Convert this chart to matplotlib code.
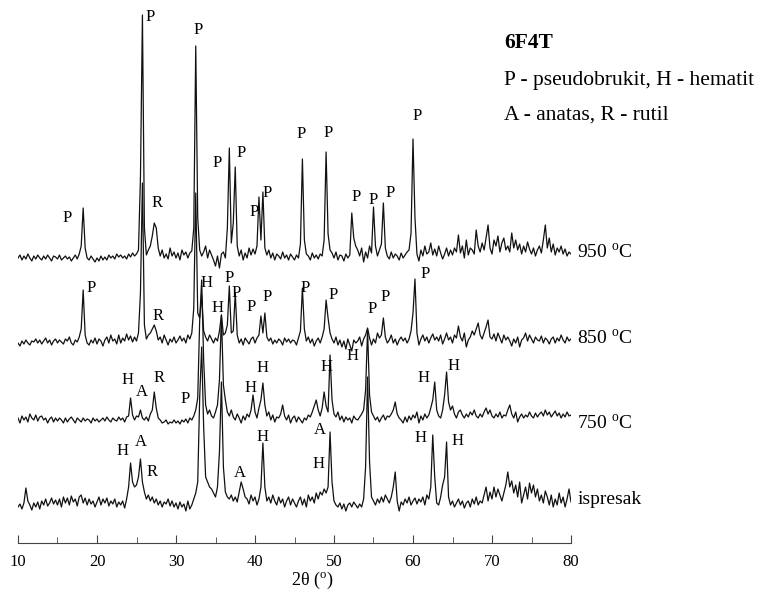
import numpy as np
import matplotlib
matplotlib.use("Agg")
import matplotlib.pyplot as plt

plt.rcParams['font.family'] = ['Liberation Serif', 'DejaVu Serif']
plt.rcParams['mathtext.fontset'] = 'custom'
plt.rcParams['mathtext.rm'] = 'Liberation Serif'

# 2theta sampling, 0.25 deg steps from 10 to 80
theta = np.arange(281) * 0.25 + 10

# intensities above each trace's own baseline
i950 = [0, 3, -2, 2, -1, 4, 0, -3, 2, -1, 3, 0, -2, 2, -1, 3, 0, -3, 2, 1,
        -1, 3, -2, 0, 2, -1, 1, -3, 0, 3, -1, 4, 12, 50, 10, 0, -2, 2, -1, -4,
        0, -3, 2, -2, 1, -2, 3, 0, 2, -1, 4, 1, 3, 0, 2, -1, 4, 1, 5, 2,
        4, 8, 80, 243, 30, 3, 8, 12, 22, 35, 30, 10, 2, 8, 0, 4, -1, 10, 2, 6,
        0, 5, -2, 8, 3, 6, 0, 5, 7, 30, 212, 40, 8, 2, 6, 12, 0, 8, 3, -2,
        -8, 2, -10, 4, 6, 0, 30, 110, 15, 35, 91, 12, 2, 8, -2, 5, 0, 10, 3, 9,
        4, 12, 61, 18, 66, 10, 3, 8, 0, 5, -2, 4, 2, -1, 6, 0, 3, -2, 4, 1,
        -2, 3, 0, 14, 99, 18, 4, 2, -2, 5, 0, 3, -1, 4, 2, 18, 106, 24, 8, 5,
        0, 6, -2, 3, 2, -3, 4, 0, 3, 45, 20, 12, 8, 2, 10, -4, 6, 0, 12, 5,
        51, 12, 2, 8, 14, 55, 10, 2, -1, 6, 0, 4, 2, -2, 5, 0, 3, 6, 8, 25,
        119, 40, 4, -3, 8, 2, 12, 4, 6, 15, 3, 9, 2, 12, 5, -1, 4, 10, 2, 8,
        3, 10, 6, 23, 5, 12, 0, 18, 3, 10, 8, 4, 28, 12, 6, 15, 8, 20, 33, 10,
        4, 18, 12, 22, 6, 15, 20, 8, 12, 6, 25, 10, 18, 8, 14, 4, 12, 6, 16, 9,
        4, 10, 2, 8, 12, 5, 18, 33, 10, 20, 6, 14, 3, 10, 6, 12, 4, 9, 2, 6,
        4]

i850 = [0, -3, 2, -1, 3, 0, -2, 2, 1, 4, 0, 3, -1, 2, 5, 0, 3, -2, 2, 4,
        0, 3, 1, -1, 4, 2, 6, 0, -2, 3, 1, 6, 14, 53, 8, 0, -2, 3, 0, 5,
        -1, 4, 2, -3, 3, 6, 0, 8, 2, 4, -1, 8, 0, 5, 2, 9, 3, 7, 1, 6,
        2, 10, 50, 160, 18, 4, 8, 10, 14, 18, 12, 3, 6, 0, 8, 3, -2, 4, 1, 6,
        0, 3, 7, 2, 5, 0, 8, 4, 10, 35, 150, 30, 25, 48, 12, 6, 2, 8, 4, 0,
        5, 2, 12, 28, 8, 10, 18, 57, 10, 12, 50, 8, 0, 4, -2, 5, 2, -1, 4, 6,
        0, 5, 8, 27, 10, 30, 6, 2, 5, -1, 3, 0, 4, 2, -2, 5, 1, 4, 0, 3,
        2, -2, 5, 12, 55, 14, 2, 6, 0, 4, -3, 2, 5, 0, 6, 14, 43, 25, 10, 4,
        0, 6, -2, 3, -4, 2, -6, 4, -2, -8, 3, 0, 2, 6, -3, 4, 8, 15, 5, -2,
        4, 0, 10, 5, 8, 25, 6, 0, 3, 8, 0, 4, -2, 3, 6, 2, 5, 0, 4, 12,
        30, 64, 10, -2, 4, 8, 2, 6, 0, 5, 9, 3, 6, 2, 8, -1, 4, 10, 3, 6,
        0, 8, 5, 17, 6, 2, 10, -4, 3, 6, 12, 8, 14, 20, 8, 4, 10, 16, 23, 6,
        4, 9, 2, 10, 5, 0, 8, 3, 6, 2, -3, 4, 0, 6, -4, 3, 5, 10, 2, 8,
        4, 0, 6, 3, 2, 7, 0, 5, 3, -1, 4, 6, 0, 5, 2, 8, 3, 0, 6, 2,
        4]

i750 = [2, -3, 4, 0, 3, -2, 6, 2, 0, 5, -1, 3, 4, 0, 2, -3, 1, 3, -2, 2,
        -1, 2, 0, -3, 2, -2, 1, 3, 0, -3, 2, 0, -2, 2, -1, 1, 0, -3, 2, -1,
        1, -2, 0, 2, -1, 3, 0, -2, 2, 0, -1, 3, 0, 2, -2, 3, 4, 22, 5, 0,
        4, 3, 10, 2, 0, 3, -1, 6, 10, 28, 12, 2, 0, -3, -2, 0, -4, -2, -3, 0,
        -3, -1, -4, 0, -2, 1, -3, 2, 0, 4, 10, 22, 100, 140, 60, 15, 6, 10, 4, 2,
        8, 15, 40, 105, 35, 20, 8, 4, 10, 3, 0, 6, 2, -3, 4, 0, 6, 3, 10, 25,
        8, 2, 12, 20, 37, 15, 4, 8, 0, 5, -2, 3, 2, 6, 15, 4, 0, 5, -3, 2,
        4, -2, 3, 0, -3, 2, 0, 5, 3, 8, 14, 20, 10, 4, 12, 28, 14, 8, 65, 20,
        6, 3, 8, 0, 4, -2, 3, 0, 2, -3, 4, 1, 0, 3, 6, 10, 30, 90, 25, 8,
        4, 0, 3, -2, 2, 5, 0, 4, 3, 6, 10, 18, 6, 2, 0, -3, 3, -2, 4, 0,
        5, 2, 8, -3, 4, 0, 6, 2, 5, 12, 20, 38, 10, 4, 2, 10, 25, 48, 18, 10,
        14, 6, 2, 8, 10, 5, 2, 6, 3, 8, 5, 10, 4, 2, 6, 3, 8, 12, 6, 10,
        4, 2, 6, 3, 8, 2, 5, 4, 10, 15, 6, 2, 8, -2, 3, 6, 2, 5, 3, 8,
        4, 2, 7, 3, 6, 8, 4, 10, 5, 8, 3, 6, 9, 4, 7, 2, 6, 3, 8, 4,
        5]

i_isp = [0, 3, -2, 4, 19, 6, 2, -3, 4, 0, 5, -2, 6, 2, 8, 1, 4, 9, 3, 7,
         2, 8, 0, 10, 4, 9, 2, 11, 5, 8, 1, 10, 12, 4, 9, 2, 8, 3, 6, 0,
         5, 10, 2, 8, 4, 9, 1, 6, 3, 8, 0, 5, 2, 6, -1, 8, 20, 44, 25, 20,
         22, 30, 48, 25, 15, 8, 12, 6, 10, 4, 8, 2, 6, 0, 5, 3, 8, 1, 6, 0,
         4, -2, 5, 0, 3, -4, 6, -2, 2, 8, 14, 25, 110, 160, 80, 30, 25, 20, 18, 14,
         10, 20, 55, 125, 40, 15, 10, 8, 12, 6, 10, 5, 15, 25, 18, 10, 8, 3, 12, 6,
         10, 2, 8, 20, 64, 20, 6, 10, 4, 12, 6, 2, 10, 4, 8, 0, 6, 10, 2, 8,
         4, 0, 6, 10, 2, 8, 0, 12, 6, 10, 4, 14, 8, 15, 12, 18, 14, 20, 75, 25,
         6, 2, 0, 4, -2, 3, -4, 2, 4, 0, 5, 2, -1, 3, 0, 8, 40, 130, 45, 10,
         6, 2, 8, 4, 10, 5, 12, 8, 4, 10, 20, 35, 6, -4, 5, 2, 8, 4, 10, 2,
         6, 9, 3, 8, 5, 10, 2, 12, 8, 20, 72, 30, 4, 2, 10, 22, 30, 65, 10, 2,
         6, 0, 4, 8, 2, 6, -1, 4, 6, 0, 8, 3, 10, 2, 6, 4, 12, 20, 6, 15,
         8, 20, 10, 18, 12, 6, 14, 22, 35, 20, 26, 14, 22, 10, 25, 4, 12, 20, 8, 24,
         14, 22, 10, 18, 6, 12, 4, 16, 10, 2, 12, 0, 8, 2, 14, 4, 10, 0, 8, 18,
         5]

traces = [i950, i850, i750, i_isp]
baselines = [285, 200, 123, 36]
sample_names = ['950 $^{\\mathrm{o}}$C', '850 $^{\\mathrm{o}}$C', '750 $^{\\mathrm{o}}$C', 'ispresak']
name_y = [290, 204, 119, 44]

# phase labels (2theta, height, letter)
labels_950 = [(16.2, 325, 'P'), (26.7, 526, 'P'), (27.6, 340, 'R'), (32.8, 513, 'P'),
              (35.2, 380, 'P'), (38.2, 390, 'P'), (39.9, 331, 'P'), (41.5, 350, 'P'),
              (45.9, 409, 'P'), (49.2, 410, 'P'), (52.8, 346, 'P'), (54.9, 343, 'P'),
              (57.1, 350, 'P'), (60.5, 427, 'P')]
labels_850 = [(19.2, 255, 'P'), (27.7, 227, 'R'), (33.9, 260, 'H'), (36.7, 265, 'P'),
              (35.3, 235, 'H'), (37.6, 250, 'P'), (39.5, 236, 'P'), (41.6, 246, 'P'),
              (46.3, 255, 'P'), (49.9, 248, 'P'), (54.8, 234, 'P'), (56.5, 246, 'P'),
              (61.5, 269, 'P')]
labels_750 = [(23.8, 163, 'H'), (25.7, 151, 'A'), (27.8, 165, 'R'), (31.1, 144, 'P'),
              (39.4, 155, 'H'), (41.0, 175, 'H'), (49.0, 176, 'H'), (52.3, 187, 'H'),
              (48.2, 113, 'A'), (61.3, 165, 'H'), (65.1, 177, 'H')]
labels_isp = [(23.2, 92, 'H'), (25.6, 101, 'A'), (27.0, 71, 'R'), (38.1, 70, 'A'),
              (40.9, 106, 'H'), (48.0, 79, 'H'), (61.0, 105, 'H'), (65.6, 102, 'H')]

fig = plt.figure(figsize=(7.61, 5.92), dpi=100)
ax = fig.add_axes([18 / 761, 49 / 592, 553 / 761, 543 / 592])

for vals, base in zip(traces, baselines):
    ax.plot(theta, np.array(vals) + base, color='#111111', lw=0.9)

for lab in [labels_950, labels_850, labels_750, labels_isp]:
    for x, y, t in lab:
        ax.text(x, y, t, fontsize=12, ha='center', va='center')

for name, y in zip(sample_names, name_y):
    ax.text(80.8, y, name, fontsize=14, ha='left', va='center', clip_on=False)

ax.set_xlim(10, 80)
ax.set_ylim(0, 543)
for s in ['left', 'right', 'top']:
    ax.spines[s].set_visible(False)
ax.spines['bottom'].set_color('#444444')
ax.set_yticks([])
ax.set_xticks(range(10, 81, 10))
ax.set_xticks(range(15, 80, 10), minor=True)
ax.tick_params(axis='x', which='major', direction='in', length=6, pad=8,
               labelsize=12, color='#444444')
ax.tick_params(axis='x', which='minor', direction='in', length=4, color='#444444')

fig.text(312 / 761, 1 - 580 / 592, '2θ ($^{\\mathrm{o}}$)', fontsize=13,
         ha='center', va='center')

fig.text(504 / 761, 1 - 43 / 592, '6F4T', fontsize=15.5, fontweight='bold',
         ha='left', va='center')
fig.text(504 / 761, 1 - 80 / 592, 'P - pseudobrukit, H - hematit', fontsize=15.5,
         ha='left', va='center')
fig.text(504 / 761, 1 - 115 / 592, 'A - anatas, R - rutil', fontsize=15.5,
         ha='left', va='center')

fig.savefig('out.png', dpi=100)
